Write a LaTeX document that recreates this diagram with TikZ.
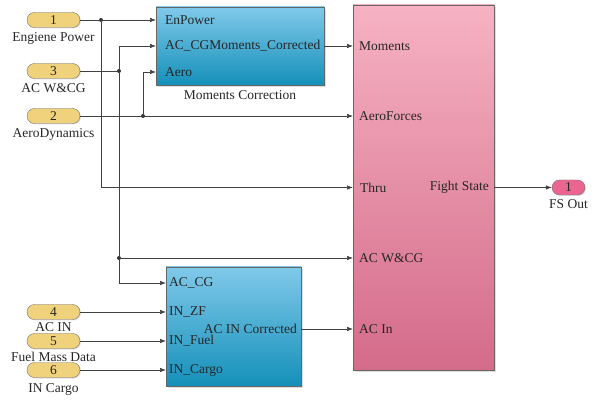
\documentclass[tikz,border=0pt]{standalone}
\usepackage{fontspec}
\setmainfont{Liberation Serif}
\usetikzlibrary{arrows.meta,shadows,positioning}

\definecolor{inyellow}{HTML}{F0D27C}
\definecolor{outpink}{HTML}{EA6690}
\definecolor{bluetop}{HTML}{80C9EA}
\definecolor{bluebot}{HTML}{1590B9}
\definecolor{pinktop}{HTML}{F6B2C2}
\definecolor{pinkbot}{HTML}{D46B8B}

\tikzset{
  txt/.style={font=\fontsize{13.5}{15}\selectfont, text=black!85},
  lbl/.style={txt, inner sep=2pt, label distance=2.5pt},
  plbl/.style={txt, inner sep=0pt},
  port/.style={draw=black!55, fill=inyellow, rounded corners=7.5pt, minimum width=53pt,
    minimum height=15pt, inner sep=0pt, txt,
    drop shadow={opacity=0.25, shadow xshift=1pt, shadow yshift=-1pt}},
  blk/.style={draw=black!60, inner sep=0pt,
    drop shadow={opacity=0.25, shadow xshift=2pt, shadow yshift=-2pt}},
  wire/.style={draw=black!75, line width=0.6pt},
  arr/.style={wire, -{Latex[length=6pt,width=4.5pt]}},
  dot/.style={circle, fill=black!80, inner sep=0pt, minimum size=4pt}
}

\begin{document}
\begin{tikzpicture}[x=1pt,y=-1pt]
  \useasboundingbox (0,0) rectangle (598,401);

  % inports and outport
  \draw (53.5,20) node[port, label={[lbl]below:Engiene Power}] (in1) {1};
  \draw (53.5,71) node[port, label={[lbl]below:AC W\&CG}] (in3) {3};
  \draw (53.5,116) node[port, label={[lbl]below:AeroDynamics}] (in2) {2};
  \draw (53.5,312) node[port, label={[lbl,label distance=1pt]below:AC IN}] (in4) {4};
  \draw (53.5,341) node[port, label={[lbl,label distance=1pt]below:Fuel Mass Data}] (in5) {5};
  \draw (53.5,370) node[port, label={[lbl,label distance=4pt]below:IN Cargo}] (in6) {6};
  \draw (568.5,187.5) node[port, fill=outpink, minimum width=33pt,
    label={[lbl]below:FS Out}] (out1) {1};

  % subsystems
  \draw (240,46) node[blk, top color=bluetop, bottom color=bluebot,
    minimum width=168pt, minimum height=78pt,
    label={[lbl,label distance=3pt]below:Moments Correction}] (mc) {};
  \draw (233.5,326.5) node[blk, top color=bluetop, bottom color=bluebot,
    minimum width=135pt, minimum height=119pt] (acin) {};
  \draw (423.5,187.5) node[blk, top color=pinktop, bottom color=pinkbot,
    minimum width=141pt, minimum height=365pt] (fs) {};

  % port positions
  \coordinate (mcEn) at (156,20);
  \coordinate (mcCG) at (156,46);
  \coordinate (mcAero) at (156,72);
  \coordinate (mcOut) at (324,46);
  \coordinate (acCG) at (166,283);
  \coordinate (acZF) at (166,312);
  \coordinate (acFuel) at (166,341);
  \coordinate (acCargo) at (166,370);
  \coordinate (acOut) at (301,329);
  \coordinate (fsMom) at (353,46);
  \coordinate (fsAero) at (353,116);
  \coordinate (fsThru) at (353,187.5);
  \coordinate (fsWCG) at (353,258);
  \coordinate (fsIn) at (353,329);
  \coordinate (fsOut) at (494,187.5);

  % port labels
  \node[plbl, right=9pt of mcEn, anchor=west] (tEn) {EnPower};
  \node[plbl, right=9pt of mcCG, anchor=west] (tCG) {AC\_CGMoments\_Corrected};
  \node[plbl, right=9pt of mcAero, anchor=west] (tAero) {Aero};
  \node[plbl, right=3pt of acCG, anchor=west] (tacCG) {AC\_CG};
  \node[plbl, right=3pt of acZF, anchor=west] (tZF) {IN\_ZF};
  \node[plbl, right=3pt of acFuel, anchor=west] (tFuel) {IN\_Fuel};
  \node[plbl, right=3pt of acCargo, anchor=west] (tCargo) {IN\_Cargo};
  \node[plbl, left=4pt of acOut, anchor=east] (tacOut) {AC IN Corrected};
  \node[plbl, right=6pt of fsMom, anchor=west] (tMom) {Moments};
  \node[plbl, right=6pt of fsAero, anchor=west] (tfsAero) {AeroForces};
  \node[plbl, right=7pt of fsThru, anchor=west] (tThru) {Thru};
  \node[plbl, right=6pt of fsWCG, anchor=west] (tWCG) {AC W\&CG};
  \node[plbl, right=6pt of fsIn, anchor=west] (tIn) {AC In};
  \node[plbl, left=5pt of fsOut, anchor=east] (tOut) {Fight State};

  % branch points
  \node[dot] (j1) at (101,20) {};
  \node[dot] (j3a) at (119,71) {};
  \node[dot] (j3b) at (119,258) {};
  \node[dot] (j2) at (143,116) {};

  % wires
  \draw[arr] (in1.east) -- (mcEn);
  \draw[arr] (j1) |- (fsThru);
  \draw[wire] (in3.east) -- (j3a);
  \draw[arr] (j3a) |- (mcCG);
  \draw[arr] (j3a) -- (j3b) -- (fsWCG);
  \draw[arr] (j3b) |- (acCG);
  \draw[arr] (in2.east) -- (fsAero);
  \draw[arr] (j2) |- (mcAero);
  \draw[arr] (mcOut) -- (fsMom);
  \draw[arr] (in4.east) -- (acZF);
  \draw[arr] (in5.east) -- (acFuel);
  \draw[arr] (in6.east) -- (acCargo);
  \draw[arr] (acOut) -- (fsIn);
  \draw[arr] (fsOut) -- (out1.west);

\end{tikzpicture}
\end{document}
